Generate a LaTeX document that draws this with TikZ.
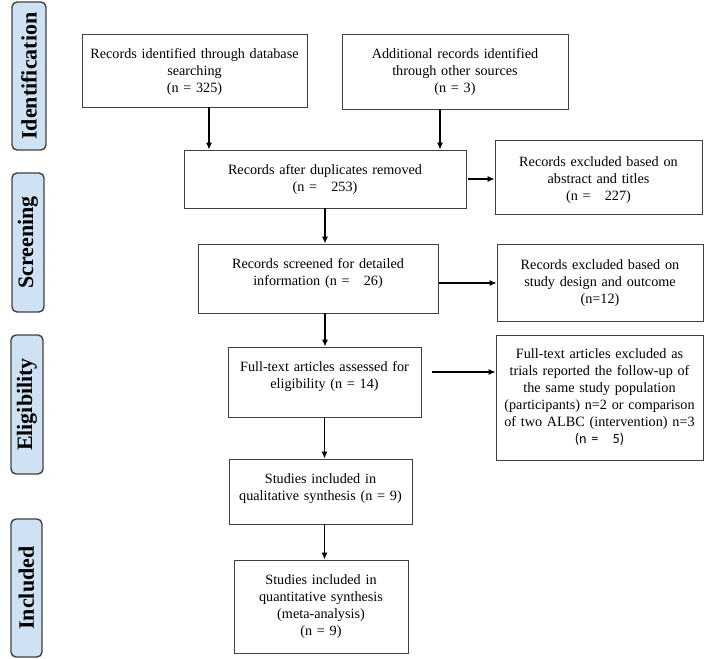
\documentclass[tikz,border=0pt]{standalone}
\usepackage{fontspec}
\setmainfont{Liberation Serif}
\newfontfamily\carlito{Carlito}
\usetikzlibrary{arrows.meta}
\definecolor{phase}{RGB}{207,226,243}
\definecolor{edge}{RGB}{64,64,64}

\begin{document}
\begin{tikzpicture}[x=1pt,y=-1pt,font=\fontsize{14.2}{17}\selectfont,
    rec/.style={draw=edge,line width=0.9pt,inner xsep=0pt,inner ysep=0pt,align=center,text height=24.5pt},
    phaselbl/.style={draw=edge,line width=1.4pt,fill=phase,rounded corners=5pt,rotate=90,inner sep=0pt,
      font=\fontsize{22}{24}\selectfont\bfseries},
    arr/.style={-{Latex[length=7pt,width=6pt]},line width=1.1pt}]
      \useasboundingbox (0,0) rectangle (705,659);
      % phases
      \node[phaselbl,minimum width=148pt,minimum height=34pt] (ident) at (29,76) { Identification };
      \node[phaselbl,minimum width=139pt,minimum height=32pt] (screen) at (28,242.5) { Screening };
      \node[phaselbl,minimum width=139pt,minimum height=32pt] (elig) at (27,404.5) { Eligibility };
      \node[phaselbl,minimum width=138pt,minimum height=31pt] (incl) at (26.5,588) { Included };
      % records
      \node[rec,text width=225pt,text depth=48.5pt] (db) at (194.5,70.5) { Records identified through database\\ searching\\ (n = 325) };
      \node[rec,text width=226pt,text depth=50.5pt] (other) at (455,71.5) { Additional records identified\\ through other sources\\ (n = 3) };
      \node[rec,text width=282pt,text depth=33.5pt] (dup) at (325,179) { Records after duplicates removed\\ (n =\ \ \ 253) };
      \node[rec,text width=207pt,text height=26pt,text depth=48pt] (absx) at (598.5,177) { Records excluded based on\\ abstract and titles\\ (n =\ \ \ 227) };
      \node[rec,text width=240pt,text depth=44.5pt] (scr) at (318,278.5) { Records screened for detailed\\ information (n =\ \ \ 26) };
      \node[rec,text width=206pt,text height=25.5pt,text depth=51.5pt] (dsx) at (600,282.5) { Records excluded based on\\ study design and outcome\\ (n=12) };
      \node[rec,text width=193pt,text depth=45.5pt] (full) at (324.5,382) { Full-text articles assessed for\\ eligibility (n = 14) };
      \node[rec,text width=207pt,text height=23.5pt,text depth=101.5pt] (ftx) at (599.5,397.5) { Full-text articles excluded as\\ trials reported the follow-up of\\ the same study population\\ (participants) n=2 or comparison\\ of two ALBC (intervention) n=3\\ {\carlito (n =\ \ \ 5)} };
      \node[rec,text width=183pt,text depth=40.5pt] (qual) at (320.5,491.5) { Studies included in\\ qualitative synthesis (n = 9) };
      \node[rec,text width=174pt,text depth=68.5pt] (quant) at (321,606.5) { Studies included in\\ quantitative synthesis\\ (meta-analysis)\\ (n = 9) };
      % flow
      \draw[arr] ([xshift=14.5pt]db.south) -- ([xshift=14.5pt]db.south |- dup.north);
      \draw[arr] ([xshift=-15pt]other.south) -- ([xshift=-15pt]other.south |- dup.north);
      \draw[arr] ([xshift=2pt]dup.east) -- (dup.east -| absx.west);
      \draw[arr] (dup.south) -- (dup.south |- scr.north);
      \draw[arr] ([xshift=1pt,yshift=-4.5pt]scr.east) -- ([yshift=-4.5pt]scr.east -| dsx.west);
      \draw[arr] (dup.south |- scr.south) -- (dup.south |- full.north);
      \draw[arr] ([xshift=11pt,yshift=10pt]full.east) -- ([yshift=10pt]full.east -| ftx.west);
      \draw[arr] (full.south) -- (full.south |- qual.north);
      \draw[arr] (full.south |- qual.south) -- (full.south |- quant.north);
    \end{tikzpicture}
\end{document}
